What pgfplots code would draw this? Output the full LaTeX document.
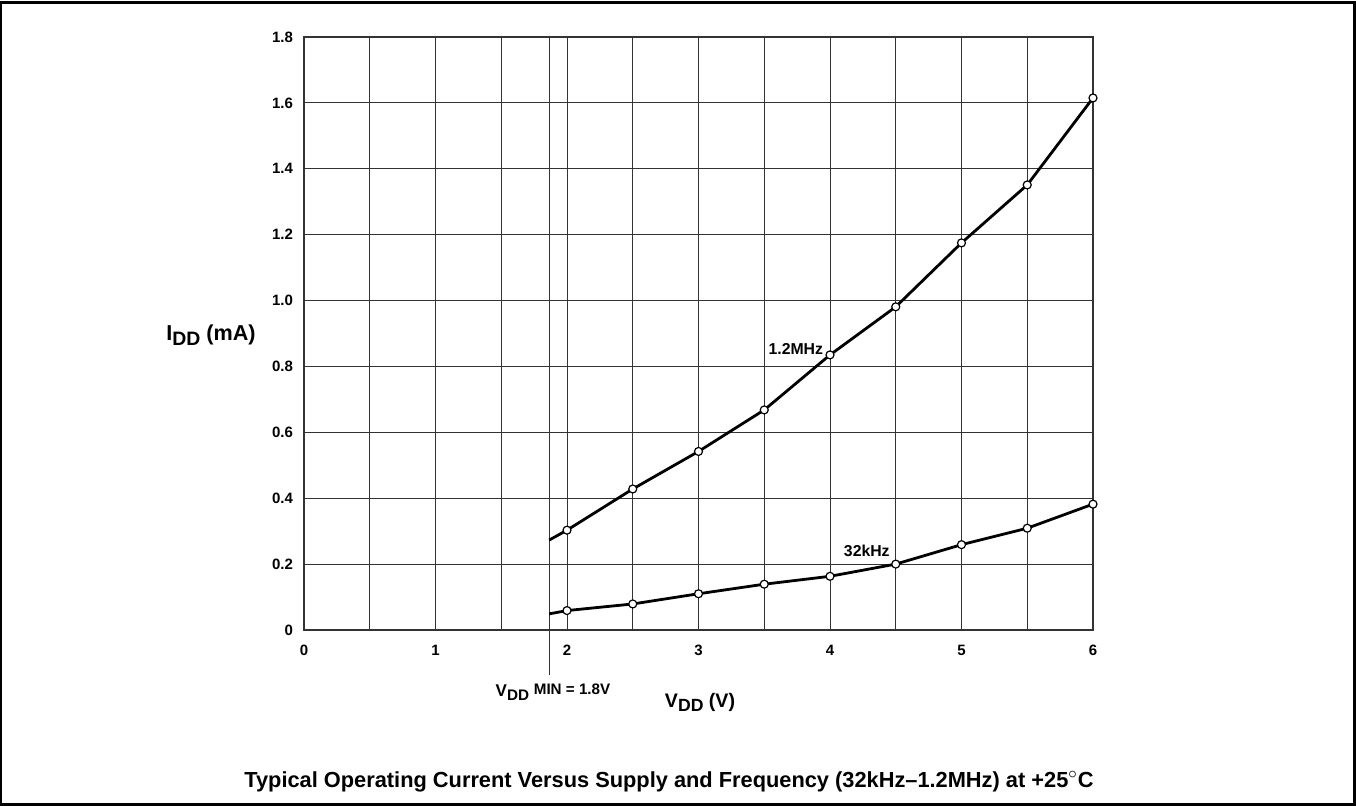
\documentclass[border=0pt]{standalone}
\usepackage{fontspec}
\setmainfont{Liberation Sans}
\usepackage{graphicx}
\usepackage{pgfplots}
\pgfplotsset{compat=1.18}
\newcommand\sub[1]{\raisebox{-0.4ex}{\scalebox{0.9}{#1}}}
\newcommand\fs[1]{\fontsize{#1bp}{#1bp}\selectfont\bfseries}
\begin{document}
\begin{tikzpicture}
\useasboundingbox (0,0) rectangle (678bp,403bp);
\draw[line width=1.2bp] (0.6bp,0.8bp) rectangle (677.2bp,401.8bp);
\begin{axis}[
  at={(152bp,88bp)}, anchor=south west,
  scale only axis, width=394.5bp, height=296.5bp,
  xmin=0, xmax=6, ymin=0, ymax=1.8,
  xtick={0,1,...,6},
  minor xtick={0.5,1.5,...,5.5},
  ytick={0,0.2,...,1.8},
  yticklabels={0,0.2,0.4,0.6,0.8,1.0,1.2,1.4,1.6,1.8},
  grid=both,
  grid style={black!80, line width=0.5bp},
  minor grid style={black!80, line width=0.5bp},
  axis line style={black!80, line width=0.6bp},
  major tick length=0pt, minor tick length=0pt,
  /pgf/number format/assume math mode=true,
  xticklabel style={font=\fs{7.5}, anchor=base, yshift=-13bp},
  yticklabel style={font=\fs{7.5}, xshift=-2bp},
  clip=false,
]
% V_DD minimum marker line
\addplot[black!80, line width=0.5bp] coordinates {(1.865,-0.137) (1.865,1.8)};
% 1.2 MHz
\addplot[black, line width=1.4bp, mark=*, mark indices={2,3,4,5,6,7,8,9,10},
  mark size=2bp, mark options={fill=white, line width=0.6bp}] coordinates {
  (1.865,0.273) (2,0.303) (2.5,0.428) (3,0.542) (3.5,0.668)
  (4,0.835) (4.5,0.981) (5,1.175) (5.5,1.351) (6,1.615) };
% 32 kHz
\addplot[black, line width=1.4bp, mark=*, mark indices={2,3,4,5,6,7,8,9,10},
  mark size=2bp, mark options={fill=white, line width=0.6bp}] coordinates {
  (1.865,0.049) (2,0.059) (2.5,0.079) (3,0.110) (3.5,0.139)
  (4,0.163) (4.5,0.200) (5,0.259) (5.5,0.309) (6,0.382) };
\node[anchor=east, inner sep=0pt, font=\fs{7.9}] at (axis cs:3.95,0.853) {1.2MHz};
\node[inner sep=0pt, font=\fs{7.9}] at (axis cs:4.28,0.240) {32kHz};
\end{axis}
\node[font=\fs{10.8}] at (105.5bp,235.5bp) {I\sub{DD} (mA)};
\node[font=\fs{9.8}] at (350bp,52bp) {V\sub{DD} (V)};
\node[font=\fs{8.5}] at (276.5bp,57bp) {V\sub{DD} \raisebox{0.25ex}{\fs{7.6}MIN = 1.8V}};
\node[font=\fs{10.9}] at (334.5bp,12bp) {Typical Operating Current Versus Supply and Frequency (32kHz–1.2MHz) at +25\raisebox{0.1ex}{$^\circ$}C};
\end{tikzpicture}
\end{document}
